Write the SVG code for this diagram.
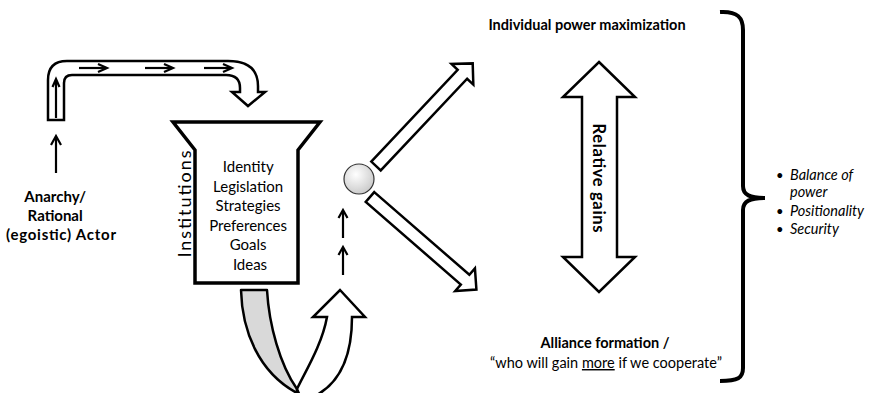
<svg xmlns="http://www.w3.org/2000/svg" width="875" height="393" viewBox="0 0 875 393">
<defs>
<style>
.t{font-family:Lato,"Liberation Sans",sans-serif;fill:#000}
.b{font-weight:bold}
.i{font-style:italic}
.blk{fill:#fff;stroke:#000;stroke-width:2.5;stroke-linejoin:miter}
.ln{fill:none;stroke:#000;stroke-width:2.2;stroke-linecap:butt}
.hd{fill:none;stroke:#000;stroke-width:2.2;stroke-linejoin:miter}
</style>
<radialGradient id="ball" cx="0.4" cy="0.35" r="0.7">
<stop offset="0" stop-color="#ffffff"/>
<stop offset="1" stop-color="#c8c8c8"/>
</radialGradient>
</defs>
<rect width="875" height="393" fill="#fff"/>

<g id="connectors">
  <!-- top-left bent block arrow -->
  <path class="blk" d="M48,120 L48,80 Q48,61 67,61 L228,61 Q258,61 258,86 L258,92 L265,92 L248,106 L232,92 L240,92 L240,88 Q240,75 226,75 L72,75 Q64,75 64,83 L64,120 Z"/>
  <g>
    <line class="ln" x1="56" y1="118" x2="56" y2="80"/>
    <polyline class="hd" points="52.5,87 56,79 59.5,87"/>
    <line class="ln" x1="79" y1="68" x2="106" y2="68"/>
    <polyline class="hd" points="98,64 107,68 98,72"/>
    <line class="ln" x1="145" y1="68" x2="172" y2="68"/>
    <polyline class="hd" points="164,64 173,68 164,72"/>
    <line class="ln" x1="204" y1="68" x2="231" y2="68"/>
    <polyline class="hd" points="223,64 232,68 223,72"/>
  </g>
  <!-- up arrow from actor -->
  <line class="ln" x1="56" y1="173" x2="56" y2="138"/>
  <polyline class="hd" points="51,145 56,136 61,145"/>
  <!-- small up arrows under circle -->
  <line class="ln" x1="343" y1="238" x2="343" y2="212"/>
  <polyline class="hd" points="338.5,218 343,210 347.5,218"/>
  <line class="ln" x1="343" y1="275" x2="343" y2="249"/>
  <polyline class="hd" points="338.5,255 343,247 347.5,255"/>
  <!-- U-turn arrow -->
  <path d="M241,290 L267,290 C269,325 280,365 297,389 L297,393 C258,372 242,330 241,290 Z" fill="#d9d9d9" stroke="#000" stroke-width="2.5" stroke-linejoin="round"/>
  <path class="blk" d="M297,389 C305,372 322,345 327,317 L313,317 L340,290 L365,317 L352,317 C352,352 342,382 315,396 L300,396 Z"/>
  <!-- diagonal block arrows -->
  <path class="blk" transform="translate(376,166) rotate(-46.7)" d="M0,-6.5 L126,-6.5 L126,-15 L141,0 L126,15 L126,6.5 L0,6.5 Z"/>
  <path class="blk" transform="translate(370,197) rotate(41)" d="M0,-6.5 L126,-6.5 L126,-15 L141,0 L126,15 L126,6.5 L0,6.5 Z"/>
  <!-- double arrow -->
  <path class="blk" d="M599,62 L635,97 L617,97 L617,257 L635,257 L599,292 L563,257 L582,257 L582,97 L563,97 Z"/>
  <!-- right bracket -->
  <path d="M720,12 C738,11 743,18 743,30 L743,186 C743,195 750,198 765,198 C750,198 743,201 743,210 L743,368 C743,378 738,381 720,381" fill="none" stroke="#000" stroke-width="4"/>
</g>

<g id="actor">
  <text class="t b" font-size="15" text-anchor="middle">
    <tspan x="57" y="202">Anarchy/</tspan>
    <tspan x="57" y="221">Rational</tspan>
    <tspan x="61" y="240" textLength="110">(egoistic) Actor</tspan>
  </text>
</g>

<g id="institutions">
  <path d="M173,122 L320,122 L298,150 L298,283 L195,283 L195,150 Z" fill="#fff" stroke="#000" stroke-width="3.5" stroke-linejoin="miter"/>
  <text class="t" font-size="18" text-anchor="middle" transform="translate(191,204) rotate(-90)" textLength="107">Institutions</text>
  <text class="t" font-size="15" text-anchor="middle">
    <tspan x="250" y="172">Identity</tspan>
    <tspan x="250" y="192">Legislation</tspan>
    <tspan x="250" y="211">Strategies</tspan>
    <tspan x="250" y="231">Preferences</tspan>
    <tspan x="250" y="250">Goals</tspan>
    <tspan x="250" y="270">Ideas</tspan>
  </text>
</g>

<g id="state">
  <circle cx="359" cy="179" r="15" fill="url(#ball)" stroke="#333" stroke-width="1.2"/>
</g>

<g id="power-max">
  <text class="t b" font-size="14.5" text-anchor="middle" x="587" y="30">Individual power maximization</text>
</g>

<g id="relative-gains">
  <text class="t b" font-size="16.5" text-anchor="middle" transform="translate(593,178) rotate(90)" textLength="109">Relative  gains</text>
</g>

<g id="alliance">
  <text class="t b" font-size="14.5" text-anchor="middle" x="605" y="348">Alliance formation /</text>
  <text class="t" font-size="14.5" text-anchor="middle" x="606" y="368">“who will gain <tspan text-decoration="underline">more</tspan> if we cooperate”</text>
</g>

<g id="outcomes">
  <text class="t" font-size="13" x="776" y="180">•</text>
  <text class="t i" font-size="14.5" x="790" y="180">Balance of</text>
  <text class="t i" font-size="14.5" x="790" y="197">power</text>
  <text class="t" font-size="13" x="776" y="216">•</text>
  <text class="t i" font-size="14.5" x="790" y="216">Positionality</text>
  <text class="t" font-size="13" x="776" y="234">•</text>
  <text class="t i" font-size="14.5" x="790" y="234">Security</text>
</g>
</svg>
